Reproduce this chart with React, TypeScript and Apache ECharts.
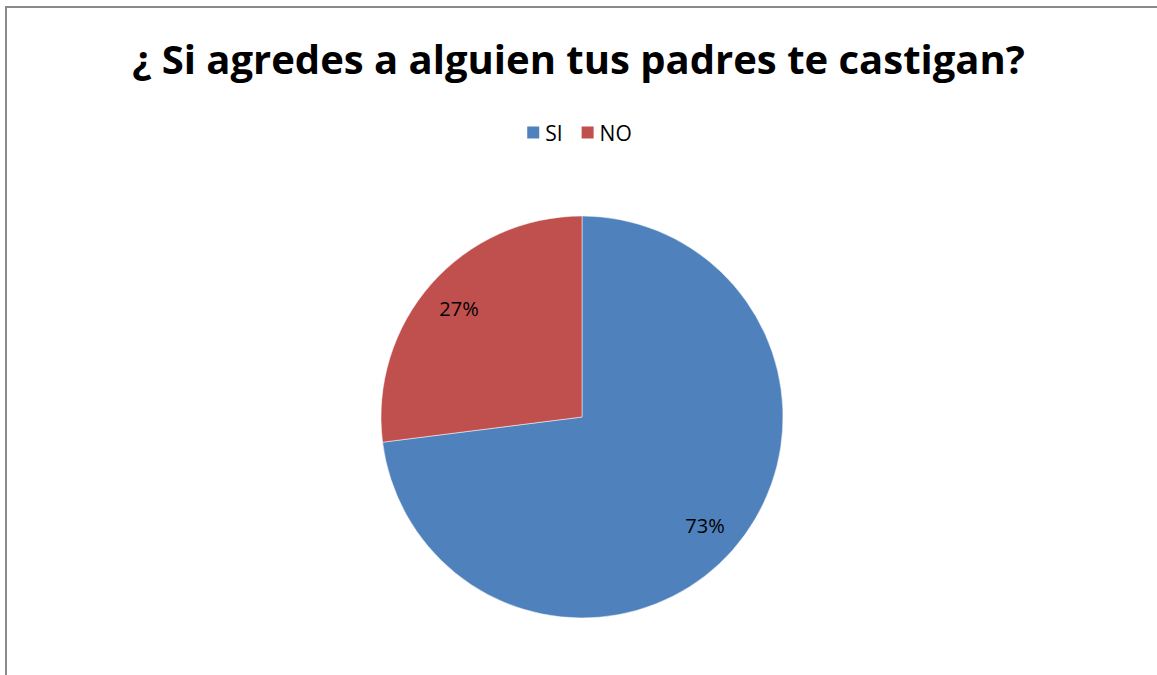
import React, { useEffect, useRef } from "react";
import * as echarts from "echarts";

const titleText = "¿ Si agredes a alguien tus padres te castigan?";
const categories = ["SI", "NO"];
const values = [73, 27];
const colors = ["#4F81BD", "#C0504D"];

export default function App() {
  const ref = useRef<HTMLDivElement>(null);
  useEffect(() => {
    if (!ref.current) return;
    const chart = echarts.init(ref.current, null, { renderer: "svg" });
    const data = categories.map((c, i) => ({ name: c, value: values[i] }));
    chart.setOption({
      animation: false,
      backgroundColor: "#ffffff",
      color: colors,
      title: {
        text: titleText,
        left: "center",
        top: 33,
        textStyle: {
          fontFamily: "Open Sans",
          fontWeight: "bold",
          fontSize: 40,
          color: "#000000",
        },
      },
      legend: {
        top: 117,
        left: "center",
        itemWidth: 14,
        itemHeight: 14,
        itemGap: 17,
        icon: "rect",
        textStyle: { fontFamily: "Open Sans", fontSize: 21, color: "#000" },
        data: categories.map((c, i) => ({ name: c, itemStyle: { color: colors[i] } })),
      },
      graphic: [
        {
          type: "polyline",
          shape: { points: [[6, 675], [6, 7], [1157, 7]] },
          style: { stroke: "#8a8a8a", lineWidth: 2, fill: null },
          silent: true,
        },
      ],
      series: [
        {
          type: "pie",
          center: [582, 417],
          radius: [0, 201],
          startAngle: 90,
          clockwise: true,
          label: { show: false },
          labelLine: { show: false },
          itemStyle: { borderColor: "#ffffff", borderWidth: 0.5 },
          emphasis: { disabled: true },
          data,
        },
        {
          type: "pie",
          center: [582, 417],
          radius: [121, 201],
          startAngle: 90,
          clockwise: true,
          silent: true,
          itemStyle: { color: "rgba(0,0,0,0)" },
          emphasis: { disabled: true },
          label: {
            show: true,
            position: "inside",
            formatter: "{d}%",
            fontFamily: "Open Sans",
            fontSize: 20,
            color: "#000000",
          },
          labelLine: { show: false },
          data,
        },
      ],
    });
    return () => chart.dispose();
  }, []);
  return (
    <div
      ref={ref}
      style={{ position: "fixed", left: 0, top: 0, width: 1157, height: 675 }}
    />
  );
}
